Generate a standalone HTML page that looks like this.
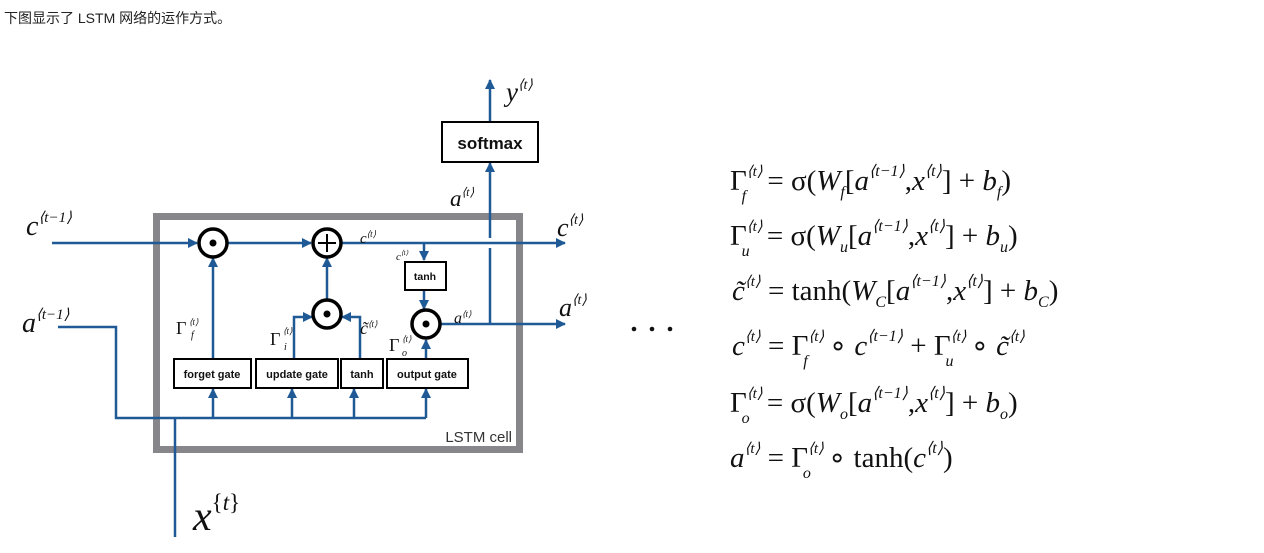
<!DOCTYPE html>
<html><head><meta charset="utf-8"><style>
body{margin:0;background:#fff;width:1264px;height:553px;overflow:hidden;position:relative;font-family:"Liberation Sans","Noto Sans CJK SC",sans-serif}
.top{position:absolute;left:4px;top:8px;font-size:14px;color:#222}
svg{position:absolute;left:0;top:0}
.m{font-family:"Liberation Serif",serif;font-style:italic;fill:#111}
.r{font-family:"Liberation Serif",serif;fill:#111}
.g{font-family:"Liberation Sans",sans-serif;font-weight:bold;fill:#111}
</style></head><body>
<div class="top">下图显示了 LSTM 网络的运作方式。</div>
<svg width="1264" height="553" viewBox="0 0 1264 553">
<defs><marker id="ar" markerWidth="10" markerHeight="10" refX="9" refY="5" orient="auto" markerUnits="userSpaceOnUse"><path d="M0,0 L10,5 L0,10 Z" fill="#1f5a96"/></marker></defs>
<rect x="156.5" y="216.5" width="363" height="233" fill="none" stroke="#87878b" stroke-width="7"/>
<g stroke="#1f5a96" stroke-width="2.5" fill="none">
<line x1="52" y1="243" x2="197" y2="243" marker-end="url(#ar)"/>
<line x1="228" y1="243" x2="311" y2="243" marker-end="url(#ar)"/>
<line x1="342" y1="243" x2="565" y2="243" marker-end="url(#ar)"/>
<line x1="424" y1="243" x2="424" y2="260" marker-end="url(#ar)"/>
<line x1="424" y1="290" x2="424" y2="309" marker-end="url(#ar)"/>
<line x1="213" y1="358" x2="213" y2="258" marker-end="url(#ar)"/>
<line x1="327" y1="299" x2="327" y2="258" marker-end="url(#ar)"/>
<polyline points="294,358 294,317 312,317" marker-end="url(#ar)"/>
<polyline points="360,358 360,317 342,317" marker-end="url(#ar)"/>
<line x1="426" y1="358" x2="426" y2="340" marker-end="url(#ar)"/>
<line x1="441" y1="324" x2="565" y2="324" marker-end="url(#ar)"/>
<line x1="490" y1="324" x2="490" y2="248"/>
<line x1="490" y1="238" x2="490" y2="163" marker-end="url(#ar)"/>
<line x1="490" y1="121" x2="490" y2="80" marker-end="url(#ar)"/>
<polyline points="58,327 116,327 116,418 426,418"/>
<line x1="175" y1="418" x2="175" y2="537"/>
<line x1="213" y1="418" x2="213" y2="389" marker-end="url(#ar)"/>
<line x1="292" y1="418" x2="292" y2="389" marker-end="url(#ar)"/>
<line x1="354" y1="418" x2="354" y2="389" marker-end="url(#ar)"/>
<line x1="426" y1="418" x2="426" y2="389" marker-end="url(#ar)"/>
</g>
<g stroke="#000" stroke-width="3.5" fill="#fff">
<circle cx="213" cy="243" r="14"/><circle cx="327" cy="243" r="14"/>
<circle cx="327" cy="314" r="14"/><circle cx="426" cy="324" r="14"/>
</g>
<g fill="#000"><circle cx="213" cy="243" r="3.5"/><circle cx="327" cy="314" r="3.5"/><circle cx="426" cy="324" r="3.5"/></g>
<path d="M318,243 H336 M327,234 V252" stroke="#000" stroke-width="2"/>
<g stroke="#000" stroke-width="2" fill="#fff">
<rect x="442" y="122" width="96" height="40"/>
<rect x="405" y="262" width="41" height="28"/>
<rect x="174" y="359" width="77" height="29"/>
<rect x="256" y="359" width="82" height="29"/>
<rect x="341" y="359" width="42" height="29"/>
<rect x="387" y="359" width="81" height="29"/>
</g>
<text x="490" y="149" class="g" font-size="17" text-anchor="middle">softmax</text>
<text x="425" y="280" class="g" font-size="10.5" text-anchor="middle">tanh</text>
<text x="212" y="378" class="g" font-size="11" text-anchor="middle">forget gate</text>
<text x="297" y="378" class="g" font-size="11" text-anchor="middle">update gate</text>
<text x="362" y="378" class="g" font-size="11" text-anchor="middle">tanh</text>
<text x="427" y="378" class="g" font-size="11" text-anchor="middle">output gate</text>
<text x="512" y="442" font-family="Liberation Sans" font-size="15" fill="#333" text-anchor="end">LSTM cell</text>
<text x="26" y="235" class="m" font-size="28">c<tspan font-size="15" dy="-13">⟨t−1⟩</tspan></text>
<text x="22" y="332" class="m" font-size="28">a<tspan font-size="15" dy="-13">⟨t−1⟩</tspan></text>
<text x="557" y="236" class="m" font-size="26">c<tspan font-size="14" dy="-12">⟨t⟩</tspan></text>
<text x="559" y="316" class="m" font-size="26">a<tspan font-size="14" dy="-12">⟨t⟩</tspan></text>
<text x="506" y="101" class="m" font-size="27">y<tspan font-size="14" dy="-12">⟨t⟩</tspan></text>
<text x="450" y="206" class="m" font-size="23">a<tspan font-size="12" dy="-10">⟨t⟩</tspan></text>
<text x="360" y="243" class="m" font-size="15">c<tspan font-size="9" dy="-6">⟨t⟩</tspan></text>
<text x="396" y="260" class="m" font-size="11">c<tspan font-size="7" dy="-5">⟨t⟩</tspan></text>
<text x="454" y="323" class="m" font-size="16">a<tspan font-size="9" dy="-6">⟨t⟩</tspan></text>
<text x="176" y="334" class="r" font-size="18">Γ</text><text x="189" y="325" class="m" font-size="9">⟨t⟩</text><text x="191" y="338" class="m" font-size="10">f</text>
<text x="270" y="345" class="r" font-size="18">Γ</text><text x="283" y="334" class="m" font-size="9">⟨t⟩</text><text x="284" y="350" class="m" font-size="10">i</text>
<text x="360" y="334" class="m" font-size="18">c̃</text><text x="368" y="327" class="m" font-size="9">⟨t⟩</text>
<text x="389" y="351" class="r" font-size="18">Γ</text><text x="402" y="342" class="m" font-size="9">⟨t⟩</text><text x="402" y="356" class="m" font-size="10">o</text>
<text x="193" y="530" class="m" font-size="42">x<tspan font-size="23" dy="-20" font-style="normal">{</tspan><tspan font-size="23">t</tspan><tspan font-size="23" font-style="normal">}</tspan></text>
<g fill="#111"><circle cx="634" cy="329" r="2.3"/><circle cx="652" cy="329" r="2.3"/><circle cx="670" cy="329" r="2.3"/></g>
<g class="r" font-size="29" font-weight="bold" style="font-weight:normal">
<text x="730" y="190"><tspan>Γ</tspan><tspan class="m" font-size="15" dy="-14">⟨t⟩</tspan><tspan class="m" font-size="16" dx="-21" dy="25">f</tspan><tspan dx="14" dy="-11"> = σ(</tspan><tspan class="m">W</tspan><tspan class="m" font-size="16" dy="7">f</tspan><tspan dy="-7">[</tspan><tspan class="m">a</tspan><tspan class="m" font-size="16" dy="-14">⟨t−1⟩</tspan><tspan dy="14">,</tspan><tspan class="m">x</tspan><tspan class="m" font-size="16" dy="-14">⟨t⟩</tspan><tspan dy="14">] + </tspan><tspan class="m">b</tspan><tspan class="m" font-size="16" dy="7">f</tspan><tspan dy="-7">)</tspan></text>
<text x="730" y="245"><tspan>Γ</tspan><tspan class="m" font-size="15" dy="-14">⟨t⟩</tspan><tspan class="m" font-size="16" dx="-21" dy="25">u</tspan><tspan dx="10" dy="-11"> = σ(</tspan><tspan class="m">W</tspan><tspan class="m" font-size="16" dy="7">u</tspan><tspan dy="-7">[</tspan><tspan class="m">a</tspan><tspan class="m" font-size="16" dy="-14">⟨t−1⟩</tspan><tspan dy="14">,</tspan><tspan class="m">x</tspan><tspan class="m" font-size="16" dy="-14">⟨t⟩</tspan><tspan dy="14">] + </tspan><tspan class="m">b</tspan><tspan class="m" font-size="16" dy="7">u</tspan><tspan dy="-7">)</tspan></text>
<text x="732" y="300"><tspan class="m">c̃</tspan><tspan class="m" font-size="15" dy="-14">⟨t⟩</tspan><tspan dy="14"> = tanh(</tspan><tspan class="m">W</tspan><tspan class="m" font-size="16" dy="7">C</tspan><tspan dy="-7">[</tspan><tspan class="m">a</tspan><tspan class="m" font-size="16" dy="-14">⟨t−1⟩</tspan><tspan dy="14">,</tspan><tspan class="m">x</tspan><tspan class="m" font-size="16" dy="-14">⟨t⟩</tspan><tspan dy="14">] + </tspan><tspan class="m">b</tspan><tspan class="m" font-size="16" dy="7">C</tspan><tspan dy="-7">)</tspan></text>
<text x="732" y="355"><tspan class="m">c</tspan><tspan class="m" font-size="15" dy="-14">⟨t⟩</tspan><tspan dy="14"> = Γ</tspan><tspan class="m" font-size="15" dy="-14">⟨t⟩</tspan><tspan class="m" font-size="16" dx="-21" dy="25">f</tspan><tspan dx="14" dy="-11"> ∘ </tspan><tspan class="m">c</tspan><tspan class="m" font-size="16" dy="-14">⟨t−1⟩</tspan><tspan dy="14"> + Γ</tspan><tspan class="m" font-size="15" dy="-14">⟨t⟩</tspan><tspan class="m" font-size="16" dx="-21" dy="25">u</tspan><tspan dx="10" dy="-11"> ∘ </tspan><tspan class="m">c̃</tspan><tspan class="m" font-size="15" dy="-14">⟨t⟩</tspan></text>
<text x="730" y="412"><tspan>Γ</tspan><tspan class="m" font-size="15" dy="-14">⟨t⟩</tspan><tspan class="m" font-size="16" dx="-21" dy="25">o</tspan><tspan dx="10" dy="-11"> = σ(</tspan><tspan class="m">W</tspan><tspan class="m" font-size="16" dy="7">o</tspan><tspan dy="-7">[</tspan><tspan class="m">a</tspan><tspan class="m" font-size="16" dy="-14">⟨t−1⟩</tspan><tspan dy="14">,</tspan><tspan class="m">x</tspan><tspan class="m" font-size="16" dy="-14">⟨t⟩</tspan><tspan dy="14">] + </tspan><tspan class="m">b</tspan><tspan class="m" font-size="16" dy="7">o</tspan><tspan dy="-7">)</tspan></text>
<text x="730" y="467"><tspan class="m">a</tspan><tspan class="m" font-size="15" dy="-14">⟨t⟩</tspan><tspan dy="14"> = Γ</tspan><tspan class="m" font-size="15" dy="-14">⟨t⟩</tspan><tspan class="m" font-size="16" dx="-21" dy="25">o</tspan><tspan dx="10" dy="-11"> ∘ tanh(</tspan><tspan class="m">c</tspan><tspan class="m" font-size="16" dy="-14">⟨t⟩</tspan><tspan dy="14">)</tspan></text>
</g>
</svg>
</body></html>
